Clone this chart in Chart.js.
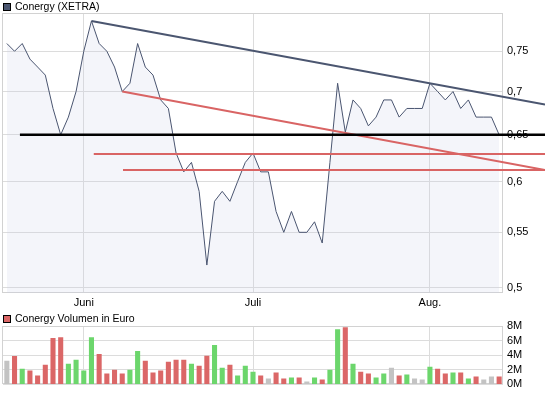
<!DOCTYPE html>
<html>
<head>
<meta charset="utf-8">
<script src="https://cdn.jsdelivr.net/npm/chart.js@4.4.0/dist/chart.umd.min.js"></script>
<style>
  body { margin: 0; background: #fff; font-family: "Liberation Sans", Arial, sans-serif; }
  #wrap { position: relative; width: 545px; height: 395px; overflow: hidden; }
  .box { position: absolute; width: 545px; left: 0; }
  #priceBox { top: 0; height: 312px; }
  #volBox { top: 312px; height: 83px; }
  .legend { position: absolute; left: 3px; font-size: 10.5px; line-height: 13px; color: #000; white-space: nowrap; }
  .legend i { position: absolute; left: 0; top: 3px; width: 8px; height: 8px; box-sizing: border-box; border: 1px solid #000; }
  .legend span { position: absolute; left: 12px; top: 0; }
</style>
</head>
<body>
<div id="wrap">
  <div class="box" id="priceBox"><canvas id="priceChart"></canvas></div>
  <div class="box" id="volBox"><canvas id="volChart"></canvas></div>
  <div class="legend" style="top:0px"><i style="background:#4b5670"></i><span>Conergy (XETRA)</span></div>
  <div class="legend" style="top:312px"><i style="background:#db6767"></i><span>Conergy Volumen in Euro</span></div>
</div>
<script>
// Handelstage (Mai - Aug.)
const days = ['18.05.','19.05.','20.05.','21.05.','22.05.','25.05.','26.05.','27.05.','28.05.','29.05.',
  '01.06.','02.06.','03.06.','04.06.','05.06.','08.06.','09.06.','10.06.','11.06.','12.06.','15.06.',
  '16.06.','17.06.','18.06.','19.06.','22.06.','23.06.','24.06.','25.06.','26.06.','29.06.','30.06.',
  '01.07.','02.07.','03.07.','06.07.','07.07.','08.07.','09.07.','10.07.','13.07.','14.07.','15.07.',
  '16.07.','17.07.','20.07.','21.07.','22.07.','23.07.','24.07.','27.07.','28.07.','29.07.','30.07.','31.07.',
  '03.08.','04.08.','05.08.','06.08.','07.08.','10.08.','11.08.','12.08.','13.08.','14.08.'];
const monthNames = { '06': 'Juni', '07': 'Juli', '08': 'Aug.' };

// Schlusskurse in Euro
const prices = [0.76, 0.75, 0.76, 0.74, 0.73, 0.72, 0.68, 0.65, 0.67, 0.70,
  0.75, 0.79, 0.76, 0.75, 0.73, 0.70, 0.71, 0.76, 0.73, 0.72, 0.69,
  0.68, 0.63, 0.61, 0.62, 0.59, 0.52, 0.58, 0.59, 0.58, 0.60, 0.62,
  0.63, 0.61, 0.61, 0.57, 0.55, 0.57, 0.55, 0.55, 0.56, 0.54, 0.62,
  0.71, 0.653, 0.69, 0.68, 0.66, 0.67, 0.69, 0.69, 0.67, 0.68, 0.68, 0.68,
  0.71, 0.70, 0.69, 0.70, 0.68, 0.69, 0.67, 0.67, 0.67, 0.65];

// Volumen in Mio. Euro
const volumes = [3.24, 3.9, 2.16, 1.89, 1.21, 2.7, 6.34, 6.47, 2.83, 3.37,
  1.89, 6.47, 4.18, 1.48, 2.02, 1.48, 2.02, 4.58, 3.24, 1.62,
  1.89, 3.1, 3.37, 3.37, 2.83, 2.56, 3.91, 5.39, 2.29, 2.7,
  1.21, 2.56, 1.75, 1.21, 0.81, 1.62, 0.81, 0.94, 0.94, 0.4,
  0.94, 0.67, 2.02, 7.55, 7.82, 2.83, 1.75, 1.48, 0.94, 1.48,
  2.29, 1.21, 1.35, 0.81, 0.67, 2.43, 2.16, 1.48, 1.62, 1.62,
  0.81, 1.08, 0.67, 1.08, 1.08];

const priceTicks = [0.5, 0.55, 0.6, 0.65, 0.7, 0.75];
const volumeTicks = [0, 2, 4, 6, 8];

// Trendlinien: [index, kurs] start und zweiter punkt, verlängert bis zum rand
const resistanceLine = [[11, 0.79], [55, 0.71]];
const fallingSupport = [[15, 0.70], [44, 0.652]];
const supportLevel = [[1.7, 0.65], [64, 0.65]];
const upperLevel = [[11.3, 0.629], [64, 0.629]];
const lowerLevel = [[15.1, 0.612], [64, 0.612]];

const trendLines = [
  { pts: resistanceLine, color: '#4b5670', width: 2 },
  { pts: fallingSupport, color: '#d96464', width: 2 },
  { pts: supportLevel, color: '#000000', width: 2.4 },
  { pts: upperLevel, color: '#d96464', width: 2 },
  { pts: lowerLevel, color: '#d96464', width: 2 }
];

Chart.defaults.font.family = '"Liberation Sans", Arial, sans-serif';
Chart.defaults.font.size = 11;
Chart.defaults.color = '#000';
Chart.defaults.animation = false;

const gridColor = '#dcdcdc';

function isMonthStart(i) {
  return i > 0 && days[i].slice(3, 5) !== days[i - 1].slice(3, 5);
}

// Rahmen um die Zeichenfläche
const framePlugin = {
  id: 'frame',
  beforeDatasetsDraw(chart) {
    const a = chart.chartArea;
    const ctx = chart.ctx;
    ctx.save();
    ctx.strokeStyle = '#d2d2d2';
    ctx.lineWidth = 1;
    ctx.strokeRect(Math.round(a.left) - 0.5, Math.round(a.top) + 0.5, Math.round(a.right - a.left), Math.round(a.bottom - a.top) - 1);
    ctx.restore();
  }
};

// Trendlinien zeichnen
const trendPlugin = {
  id: 'trend',
  afterDraw(chart) {
    const x = chart.scales.x, y = chart.scales.y, ctx = chart.ctx;
    ctx.save();
    trendLines.forEach(t => {
      const x1 = x.getPixelForValue(t.pts[0][0]), y1 = y.getPixelForValue(t.pts[0][1]);
      const x2 = x.getPixelForValue(t.pts[1][0]), y2 = y.getPixelForValue(t.pts[1][1]);
      const xe = chart.width;
      const ye = y1 + (y2 - y1) / (x2 - x1) * (xe - x1);
      ctx.strokeStyle = t.color;
      ctx.lineWidth = t.width;
      ctx.beginPath();
      ctx.moveTo(x1, y1);
      ctx.lineTo(xe, ye);
      ctx.stroke();
    });
    ctx.restore();
  }
};

new Chart(document.getElementById('priceChart'), {
  type: 'line',
  data: {
    labels: days,
    datasets: [{
      label: 'Conergy (XETRA)',
      data: prices,
      borderColor: '#4a5570',
      borderWidth: 1,
      backgroundColor: 'rgba(200,206,232,0.2)',
      fill: 'start',
      pointRadius: 0,
      tension: 0
    }]
  },
  options: {
    responsive: true,
    maintainAspectRatio: false,
    layout: { padding: { top: 13, left: 3, right: 0, bottom: 0 } },
    plugins: { legend: { display: false }, tooltip: { enabled: false } },
    scales: {
      x: {
        type: 'category',
        offset: true,
        grid: { color: gridColor, offset: false, drawTicks: false },
        border: { display: false },
        ticks: {
          autoSkip: false, maxRotation: 0, padding: 3,
          callback: v => monthNames[days[v].slice(3, 5)]
        },
        afterBuildTicks: s => { s.ticks = s.ticks.filter(t => isMonthStart(t.value)); },
        afterFit: s => { s.height = 19; }
      },
      y: {
        type: 'logarithmic',
        position: 'right',
        min: 0.4957,
        max: 0.8008,
        grid: { color: gridColor, drawTicks: false },
        border: { display: false },
        ticks: {
          padding: 4, autoSkip: false,
          callback: v => priceTicks.includes(v) ? String(v).replace('.', ',') : ''
        },
        afterBuildTicks: s => { s.ticks = priceTicks.map(v => ({ value: v })); },
        afterFit: s => { s.width = 42; }
      }
    }
  },
  plugins: [framePlugin, trendPlugin]
});

// Farbe nach Kursveränderung
const barColors = prices.map((p, i) => {
  if (i === 0 || p === prices[i - 1]) return '#c3c3c3';
  return p > prices[i - 1] ? '#6cd66c' : '#db6767';
});

new Chart(document.getElementById('volChart'), {
  type: 'bar',
  data: {
    labels: days,
    datasets: [{
      label: 'Conergy Volumen in Euro',
      data: volumes,
      backgroundColor: barColors,
      barPercentage: 0.66,
      categoryPercentage: 1
    }]
  },
  options: {
    responsive: true,
    maintainAspectRatio: false,
    layout: { padding: { top: 14, left: 3, right: 0, bottom: 0 } },
    plugins: { legend: { display: false }, tooltip: { enabled: false } },
    scales: {
      x: {
        type: 'category',
        offset: true,
        grid: { color: gridColor, offset: false, drawTicks: false },
        border: { display: false },
        ticks: { display: false },
        afterBuildTicks: s => { s.ticks = s.ticks.filter(t => isMonthStart(t.value)); },
        afterFit: s => { s.height = 9; }
      },
      y: {
        position: 'right',
        min: 0,
        max: 8,
        grid: { color: gridColor, drawTicks: false },
        border: { display: false },
        ticks: { padding: 4, callback: v => v + 'M' },
        afterBuildTicks: s => { s.ticks = volumeTicks.map(v => ({ value: v })); },
        afterFit: s => { s.width = 42; }
      }
    }
  },
  plugins: [framePlugin]
});
</script>
</body>
</html>
